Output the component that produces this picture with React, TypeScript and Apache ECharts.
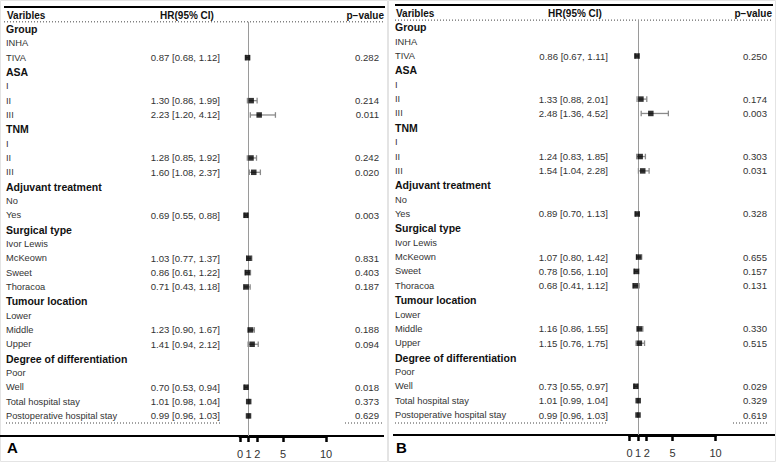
import React, { useEffect, useRef } from "react";
import * as echarts from "echarts";

const rowLabels = [
  "Group", "INHA", "TIVA",
  "ASA", "I", "II", "III",
  "TNM", "I", "II", "III",
  "Adjuvant treatment", "No", "Yes",
  "Surgical type", "Ivor Lewis", "McKeown", "Sweet", "Thoracoa",
  "Tumour location", "Lower", "Middle", "Upper",
  "Degree of differentiation", "Poor", "Well",
  "Total hospital stay", "Postoperative hospital stay",
];
const headingRows = [0, 3, 7, 11, 14, 19, 23];

// Panel A (one entry per row; null = reference / heading row)
const hrA = [null, null, 0.87, null, null, 1.30, 2.23, null, null, 1.28, 1.60, null, null, 0.69, null, null, 1.03, 0.86, 0.71, null, null, 1.23, 1.41, null, null, 0.70, 1.01, 0.99];
const lowA = [null, null, 0.68, null, null, 0.86, 1.20, null, null, 0.85, 1.08, null, null, 0.55, null, null, 0.77, 0.61, 0.43, null, null, 0.90, 0.94, null, null, 0.53, 0.98, 0.96];
const highA = [null, null, 1.12, null, null, 1.99, 4.12, null, null, 1.92, 2.37, null, null, 0.88, null, null, 1.37, 1.22, 1.18, null, null, 1.67, 2.12, null, null, 0.94, 1.04, 1.03];
const pA = [null, null, "0.282", null, null, "0.214", "0.011", null, null, "0.242", "0.020", null, null, "0.003", null, null, "0.831", "0.403", "0.187", null, null, "0.188", "0.094", null, null, "0.018", "0.373", "0.629"];

// Panel B
const hrB = [null, null, 0.86, null, null, 1.33, 2.48, null, null, 1.24, 1.54, null, null, 0.89, null, null, 1.07, 0.78, 0.68, null, null, 1.16, 1.15, null, null, 0.73, 1.01, 0.99];
const lowB = [null, null, 0.67, null, null, 0.88, 1.36, null, null, 0.83, 1.04, null, null, 0.70, null, null, 0.80, 0.56, 0.41, null, null, 0.86, 0.76, null, null, 0.55, 0.99, 0.96];
const highB = [null, null, 1.11, null, null, 2.01, 4.52, null, null, 1.85, 2.28, null, null, 1.13, null, null, 1.42, 1.10, 1.12, null, null, 1.55, 1.75, null, null, 0.97, 1.04, 1.03];
const pB = [null, null, "0.250", null, null, "0.174", "0.003", null, null, "0.303", "0.031", null, null, "0.328", null, null, "0.655", "0.157", "0.131", null, null, "0.330", "0.515", null, null, "0.029", "0.329", "0.619"];

const axisTicks = [0, 1, 2, 5, 10];
const headerLabels = ["Varibles", "HR(95% CI)", "p\u2212value"];
const panelLetters = ["A", "B"];

const FONT = "'Liberation Sans', Arial, Helvetica, sans-serif";

type Geom = {
  ox: number; lineL: number; lineR: number; topLineY: number; headerY: number;
  firstRowY: number; step: number; lastDotY: number; axisY: number;
  axisL: number; axisR: number; hrRight: number; pRight: number; hdrCenter: number; hdrRight: number;
  labelX: number; bottomL: number; bottomR: number; dotPL: number; dotPR: number;
};

const geoms: Geom[] = [
  { ox: 0, lineL: 4, lineR: 385, topLineY: 7, headerY: 15, firstRowY: 29, step: 14.33, lastDotY: 423, axisY: 436,
    axisL: 240, axisR: 326, hrRight: 220, pRight: 379, hdrCenter: 187, hdrRight: 384, labelX: 6,
    bottomL: 0, bottomR: 384, dotPL: 345, dotPR: 382 },
  { ox: 388, lineL: 395, lineR: 773, topLineY: 5, headerY: 13, firstRowY: 27.3, step: 14.36, lastDotY: 423, axisY: 435,
    axisL: 629.5, axisR: 715.5, hrRight: 608, pRight: 767, hdrCenter: 575, hdrRight: 772, labelX: 395,
    bottomL: 393, bottomR: 775, dotPL: 733, dotPR: 768 },
];

const panels = [
  { hr: hrA, low: lowA, high: highA, p: pA },
  { hr: hrB, low: lowB, high: highB, p: pB },
];

function buildOption() {
  const grid: any[] = [];
  const xAxis: any[] = [];
  const yAxis: any[] = [];
  const series: any[] = [];
  const graphic: any[] = [];

  geoms.forEach((g, k) => {
    const d = panels[k];
    const top = g.firstRowY - g.step / 2;
    const height = g.axisY - top;
    const ymax = height / g.step - 0.5;
    grid.push({ left: g.axisL, width: g.axisR - g.axisL, top, height, containLabel: false });
    xAxis.push({
      type: "value", gridIndex: k, min: 0, max: 10, position: "bottom",
      axisLine: { show: true, onZero: false, lineStyle: { color: "#000", width: 3 } },
      axisTick: { show: true, customValues: axisTicks, length: 6, lineStyle: { color: "#000", width: 2.5 } },
      axisLabel: { customValues: axisTicks, fontSize: 11, color: "#333", margin: 12, fontFamily: FONT },
      splitLine: { show: false },
    });
    yAxis.push({ type: "value", gridIndex: k, inverse: true, min: -0.5, max: ymax, show: false });

    const ciData: any[] = [];
    const ptData: any[] = [];
    d.hr.forEach((v, i) => {
      if (v != null) {
        ciData.push([d.low[i], d.high[i], i]);
        ptData.push([v, i]);
      }
    });

    series.push({
      type: "custom", xAxisIndex: k, yAxisIndex: k, silent: true, z: 3,
      data: ciData, encode: { x: [0, 1], y: 2 },
      renderItem: (params: any, api: any) => {
        const i = api.value(2);
        const a = api.coord([api.value(0), i]);
        const b = api.coord([api.value(1), i]);
        const st = { stroke: "#8a8a8a", lineWidth: 1.3 };
        return {
          type: "group",
          children: [
            { type: "line", shape: { x1: a[0], y1: a[1], x2: b[0], y2: b[1] }, style: st },
            { type: "line", shape: { x1: a[0], y1: a[1] - 2.8, x2: a[0], y2: a[1] + 2.8 }, style: st },
            { type: "line", shape: { x1: b[0], y1: b[1] - 2.8, x2: b[0], y2: b[1] + 2.8 }, style: st },
          ],
        };
      },
    });

    series.push({
      type: "scatter", xAxisIndex: k, yAxisIndex: k, silent: true, z: 4,
      symbol: "rect", symbolSize: 5.5, itemStyle: { color: "#000" },
      data: ptData,
      markLine: {
        silent: true, symbol: "none", label: { show: false },
        lineStyle: { color: "#9a9a9a", width: 1, type: "solid" },
        data: [{ xAxis: 1 }],
        z: 2,
      },
    });

    series.push({
      type: "custom", xAxisIndex: k, yAxisIndex: k, silent: true, z: 5, clip: false,
      data: rowLabels.map((_, i) => [0, i]), encode: { x: 0, y: 1 },
      renderItem: (params: any, api: any) => {
        const i = api.value(1);
        const y = api.coord([0, i])[1];
        const isHead = headingRows.indexOf(i) >= 0;
        const children: any[] = [
          {
            type: "text", x: g.labelX, y,
            style: {
              text: rowLabels[i], fill: isHead ? "#111" : "#333",
              fontSize: isHead ? 10.5 : 9.3, fontWeight: isHead ? "bold" : "normal", fontFamily: FONT,
              align: "left", verticalAlign: "middle",
            },
          },
        ];
        const v = d.hr[i];
        if (v != null) {
          children.push({
            type: "text", x: g.hrRight, y,
            style: {
              text: `${v.toFixed(2)} [${(d.low[i] as number).toFixed(2)}, ${(d.high[i] as number).toFixed(2)}]`,
              fill: "#333", fontSize: 9.6, fontFamily: FONT, align: "right", verticalAlign: "middle",
            },
          });
          children.push({
            type: "text", x: g.pRight, y,
            style: { text: d.p[i], fill: "#333", fontSize: 9.6, fontFamily: FONT, align: "right", verticalAlign: "middle" },
          });
        }
        return { type: "group", children };
      },
    });

    // decorations
    const thin = { stroke: "#000" };
    graphic.push(
      { type: "rect", shape: { x: g.ox + 0.5, y: 0.5, width: 387, height: 461 }, style: { fill: "none", stroke: "#e4e4e4", lineWidth: 1 }, z: 0 },
      { type: "line", shape: { x1: g.lineL, y1: g.topLineY, x2: g.lineR, y2: g.topLineY }, style: { ...thin, lineWidth: 2 } },
      { type: "line", shape: { x1: g.lineL, y1: top, x2: g.lineR, y2: top }, style: { stroke: "#444", lineWidth: 1, lineDash: [1, 2] } },
      { type: "line", shape: { x1: g.labelX, y1: g.lastDotY, x2: g.hrRight, y2: g.lastDotY }, style: { stroke: "#444", lineWidth: 1, lineDash: [1, 2] } },
      { type: "line", shape: { x1: g.dotPL, y1: g.lastDotY, x2: g.dotPR, y2: g.lastDotY }, style: { stroke: "#444", lineWidth: 1, lineDash: [1, 2] } },
      { type: "line", shape: { x1: g.bottomL, y1: g.axisY, x2: g.bottomR, y2: g.axisY }, style: { ...thin, lineWidth: 1.8 }, z: 1 },
      { type: "text", x: g.labelX + 1, y: g.headerY, style: { text: headerLabels[0], fill: "#111", fontSize: 10, fontWeight: "bold", fontFamily: FONT, align: "left", verticalAlign: "middle" } },
      { type: "text", x: g.hdrCenter, y: g.headerY, style: { text: headerLabels[1], fill: "#111", fontSize: 10, fontWeight: "bold", fontFamily: FONT, align: "center", verticalAlign: "middle" } },
      { type: "text", x: g.hdrRight, y: g.headerY, style: { text: headerLabels[2], fill: "#111", fontSize: 10, fontWeight: "bold", fontFamily: FONT, align: "right", verticalAlign: "middle" } },
      { type: "text", x: g.labelX + 1, y: 447, style: { text: panelLetters[k], fill: "#000", fontSize: 15, fontWeight: "bold", fontFamily: FONT, align: "left", verticalAlign: "middle" } },
    );
  });

  return { animation: false, backgroundColor: "#fff", grid, xAxis, yAxis, series, graphic };
}

export default function App() {
  const ref = useRef<HTMLDivElement>(null);
  useEffect(() => {
    document.body.style.margin = "0";
    const chart = echarts.init(ref.current as HTMLDivElement, undefined, { renderer: "svg" });
    chart.setOption(buildOption() as any);
    return () => chart.dispose();
  }, []);
  return <div ref={ref} style={{ width: 777, height: 464 }} />;
}
